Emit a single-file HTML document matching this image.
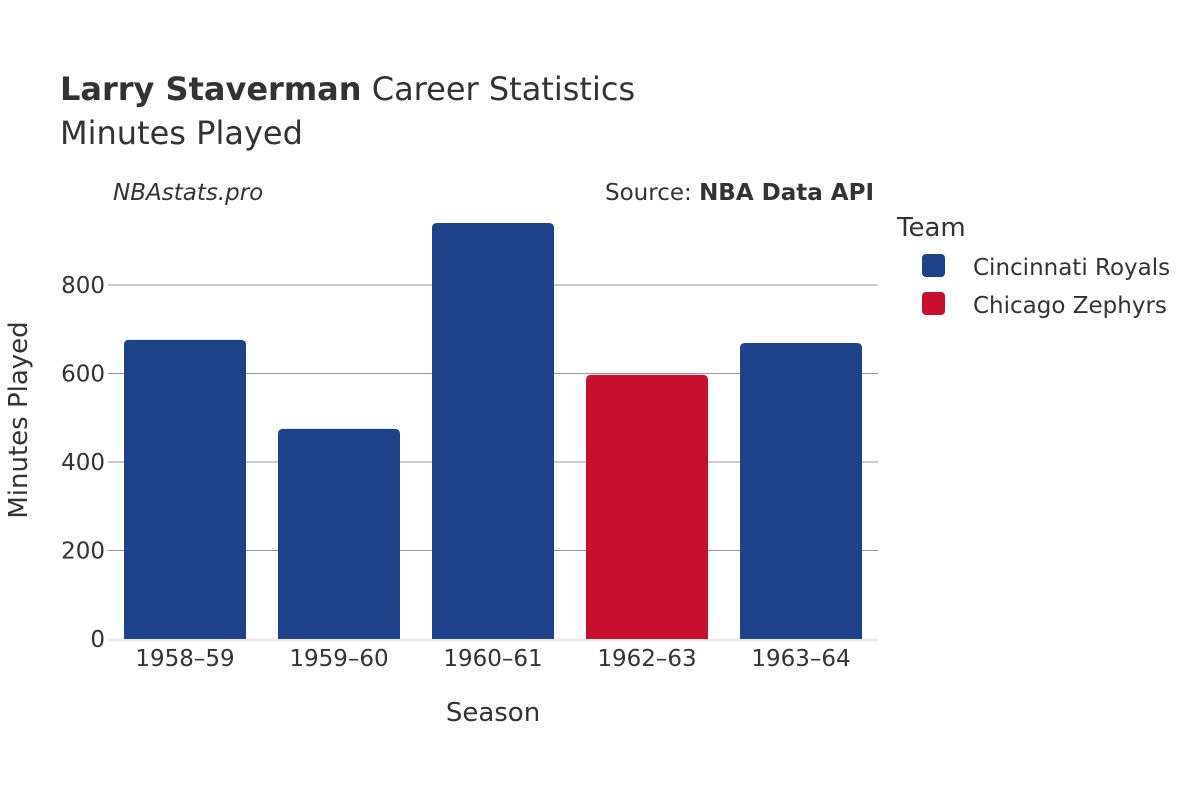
<!DOCTYPE html>
<html><head><meta charset="utf-8"><style>
body{margin:0;background:#fff;}
svg text{font-family:"DejaVu Sans","Liberation Sans",sans-serif;fill:#333;}
</style></head><body>
<svg id="chart" width="1200" height="800">
<text x="60" y="100" font-size="32"><tspan font-weight="bold">Larry Staverman</tspan> Career Statistics</text>
<text x="60" y="144" font-size="32">Minutes Played</text>
<text x="113" y="200" font-size="23" font-style="italic">NBAstats.pro</text>
<text x="874" y="200" font-size="23" text-anchor="end">Source: <tspan font-weight="bold">NBA Data API</tspan></text>
<g id="grid"></g>
<g id="bars"></g>
<g id="xticks"></g>
<text x="493" y="721" font-size="26" text-anchor="middle">Season</text>
<text transform="translate(27,420) rotate(-90)" font-size="26" text-anchor="middle">Minutes Played</text>
<text x="897" y="236" font-size="26">Team</text>
<g>
<rect x="922" y="254" width="23" height="23" rx="4" fill="#1d428a"/>
<text x="973" y="275" font-size="23">Cincinnati Royals</text></g>
<g>
<rect x="922" y="292" width="23" height="23" rx="4" fill="#c8102e"/>
<text x="973" y="313" font-size="23">Chicago Zephyrs</text></g>
</svg>
<script>
const seasons=["1958–59","1959–60","1960–61","1962–63","1963–64"];
const minutes=[676,475,940,597,669];
const teams=["Cincinnati Royals","Cincinnati Royals","Cincinnati Royals","Chicago Zephyrs","Cincinnati Royals"];
const yTicks=[0,200,400,600,800];
const colors={"Cincinnati Royals":"#1d428a","Chicago Zephyrs":"#c8102e"};
const NS="http://www.w3.org/2000/svg";
const x0=108,x1=878,y0=639,pxPerUnit=354/800;
const band=(x1-x0)/seasons.length, bw=122;
const y=v=>y0-v*pxPerUnit;
const xc=i=>x0+band*(i+0.5);
const grid=document.getElementById('grid');
yTicks.forEach(t=>{
  if(t>0){const l=document.createElementNS(NS,'line');
  
  
  l.setAttribute('x1',x0);l.setAttribute('x2',x1);l.setAttribute('y1',y(t));l.setAttribute('y2',y(t));
  l.setAttribute('stroke','#999');l.setAttribute('stroke-width','1');grid.appendChild(l);}
  const tx=document.createElementNS(NS,'text');
  
  
  tx.setAttribute('x',x0-3);tx.setAttribute('y',y(t)+8);tx.setAttribute('font-size','23');tx.setAttribute('text-anchor','end');
  tx.textContent=t;grid.appendChild(tx);
});
const base=document.createElementNS(NS,'line');


base.setAttribute('x1',x0);base.setAttribute('x2',x1);base.setAttribute('y1',y0+1);base.setAttribute('y2',y0+1);
base.setAttribute('stroke','#ebebeb');base.setAttribute('stroke-width','3');grid.appendChild(base);
const bars=document.getElementById('bars'),xt=document.getElementById('xticks');
seasons.forEach((s,i)=>{
  const top=y(minutes[i]),h=y0-top,r=5,l=xc(i)-bw/2;
  const p=document.createElementNS(NS,'path');
  
  
  p.setAttribute('d',`M${l},${y0}V${top+r}Q${l},${top} ${l+r},${top}H${l+bw-r}Q${l+bw},${top} ${l+bw},${top+r}V${y0}Z`);
  p.setAttribute('fill',colors[teams[i]]);bars.appendChild(p);
  const t=document.createElementNS(NS,'text');
  
  
  t.setAttribute('x',xc(i));t.setAttribute('y',666);t.setAttribute('font-size','23');t.setAttribute('text-anchor','middle');
  t.textContent=s;xt.appendChild(t);
});
</script>
</body></html>
